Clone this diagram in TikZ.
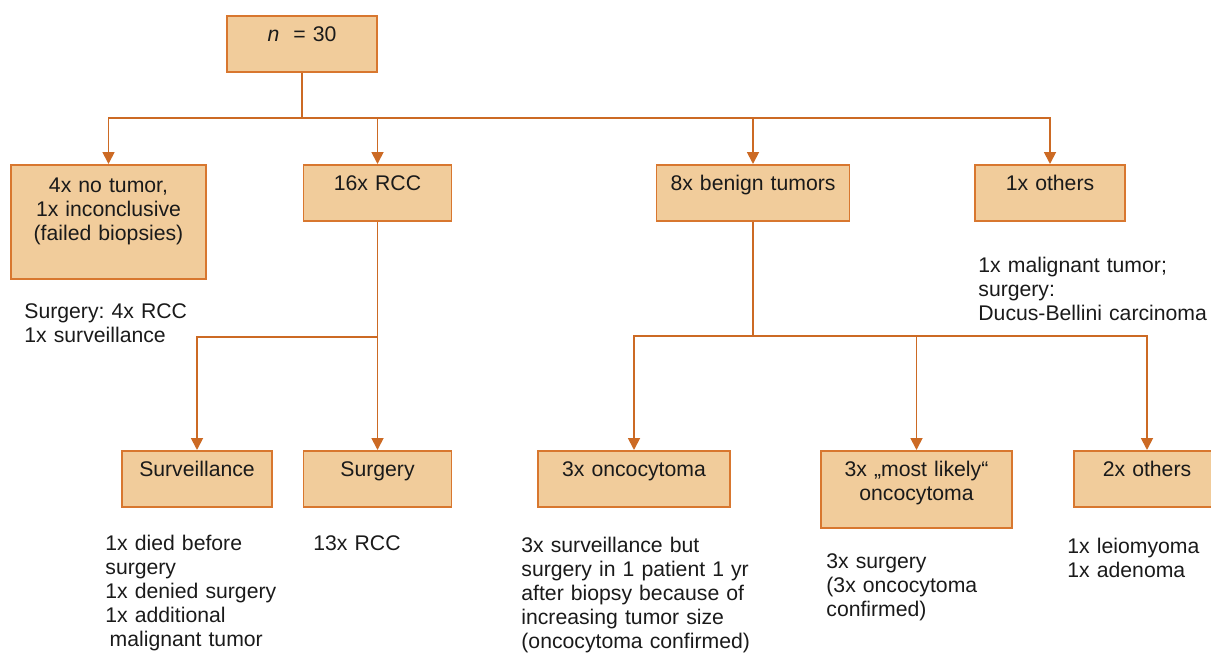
\documentclass[tikz,border=0pt]{standalone}
\usepackage{fontspec}
\setmainfont{Liberation Sans}
\usepackage{tikz}
\usetikzlibrary{arrows.meta}
\usepackage{xcolor}
\definecolor{boxfill}{HTML}{F1CC9B}
\definecolor{boxline}{HTML}{D8772F}
\definecolor{linkcol}{HTML}{CC6A24}
\definecolor{txt}{HTML}{1A1A1A}
\frenchspacing

\begin{document}
\begin{tikzpicture}[x=0.5pt, y=-0.5pt,
  every node/.style={font=\fontsize{10.6}{12}\selectfont, text=txt},
  box/.style={draw=boxline, fill=boxfill, line width=0.9pt, inner xsep=2pt, inner ysep=3pt, align=center, text height=10pt, text depth=12pt},
  note/.style={inner sep=0pt, align=left, anchor=base west, text width=130pt},
  link/.style={draw=linkcol, line width=0.9pt},
  arrow/.style={link, -{Triangle[length=6pt, width=6pt]}}]
\useasboundingbox (0,0) rectangle (1211,653);
% Biopsy results and follow-up
\node[box, anchor=north, text width=71pt] (top) at (302,15) {\textit{n}\ \ = 30};

\node[box, anchor=north, text width=93.5pt, text height=11pt, text depth=40pt] (notumor) at (108.5,164) {4x no tumor,\\1x inconclusive\\(failed biopsies)};
\node[box, anchor=north, text width=70pt] (rcc) at (377.5,164) {16x RCC};
\node[box, anchor=north, text width=92.5pt] (benign) at (753,164) {8x benign tumors};
\node[box, anchor=north, text width=71pt] (others) at (1050,164) {1x others};

\node[box, anchor=north, text width=71pt] (surv) at (197,450) {Surveillance};
\node[box, anchor=north, text width=70pt] (surg) at (377.5,450) {Surgery};
\node[box, anchor=north, text width=92pt] (onco) at (634,450) {3x oncocytoma};
\node[box, anchor=north, text width=91.5pt, text depth=22.5pt] (likely) at (916.5,450) {3x „most likely“\\oncocytoma};
\node[box, anchor=north, text width=69pt] (others2) at (1147,450) {2x others};

\node[note] (notumornote) at (24,318) {Surgery: 4x RCC\\1x surveillance};
\node[note, text width=118pt] (othersnote) at (978,272) {1x malignant tumor;\\surgery:\\Ducus-Bellini carcinoma};
\node[note] (survnote) at (105,550) {1x died before\\surgery\\1x denied surgery\\1x additional\\\hspace*{0.2em}malignant tumor};
\node[note] (surgnote) at (313,550) {13x RCC};
\node[note] (onconote) at (521,552) {3x surveillance but\\surgery in 1 patient 1 yr\\after biopsy because of\\increasing tumor size\\(oncocytoma confirmed)};
\node[note] (likelynote) at (826,568) {3x surgery\\(3x oncocytoma\\confirmed)};
\node[note, text width=68pt] (others2note) at (1067,553) {1x leiomyoma\\1x adenoma};

\coordinate (b1) at (302,118);
\coordinate (b2) at (377.5,337);
\coordinate (b3) at (753,336);

\draw[link] (top) -- (b1);
\draw[arrow] (b1) -| (notumor);
\draw[arrow] (b1) -| (rcc);
\draw[arrow] (b1) -| (benign);
\draw[arrow] (b1) -| (others);

\draw[link] (rcc) -- (b2);
\draw[arrow] (b2) -| (surv);
\draw[arrow] (b2) -- (surg);

\draw[link] (benign) -- (b3);
\draw[arrow] (b3) -| (onco);
\draw[arrow] (b3) -| (likely);
\draw[arrow] (b3) -| (others2);
\end{tikzpicture}
\end{document}
